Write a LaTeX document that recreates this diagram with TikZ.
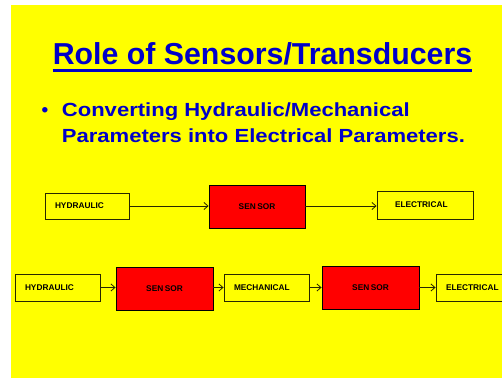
\documentclass[tikz,border=0pt]{standalone}
\usepackage{fontspec}
\setmainfont{Liberation Sans}
\usepackage{graphicx}
\usetikzlibrary{arrows.meta}
\definecolor{bgyellow}{RGB}{255,255,0}
\definecolor{titleblue}{RGB}{0,0,200}
\definecolor{edgecol}{RGB}{40,40,0}
\begin{document}
\begin{tikzpicture}[x=1pt,y=-1pt,
  boxfont/.style={font=\bfseries\fontsize{8.3}{9}\selectfont},
  valbox/.style={draw=edgecol, line width=0.9pt, fill=bgyellow, boxfont, inner ysep=0pt, inner xsep=10pt, text width=#1, align=left},
  sensbox/.style={draw=black, line width=0.9pt, fill=red, boxfont, minimum width=97pt, minimum height=43pt, inner sep=0pt},
  arr/.style={draw=edgecol, line width=0.8pt, -{Straight Barb[length=4pt,width=7pt]}},
  bluetext/.style={text=titleblue, inner sep=0pt}
]
\useasboundingbox (0,0) rectangle (502,378);
\clip (0,0) rectangle (502,378);
\fill[white] (0,0) rectangle (502,378);
\fill[bgyellow] (11,5) rectangle (502,378);

% title
\node[bluetext, anchor=base, font=\bfseries\fontsize{30.3}{36}\selectfont] (title) at (262.5,64) {Role of Sensors/Transducers};
\draw[titleblue, line width=2.3pt] ([yshift=-6.5pt]title.base west) -- ([yshift=-6.5pt]title.base east);

% bullet
\node[bluetext, anchor=base, font=\bfseries\fontsize{19}{23}\selectfont] (bul) at (45,116.7) {•};
\node[bluetext, anchor=base west, font=\bfseries\fontsize{19}{23}\selectfont] (l1) at (61.7,116.7) {\scalebox{1.16}[1]{Converting Hydraulic/Mechanical}};
\node[bluetext, anchor=base west, font=\bfseries\fontsize{19}{23}\selectfont] (l2) at (61.7,142.7) {\scalebox{1.16}[1]{Parameters into Electrical Parameters.}};

% row 1
\node[valbox=64pt, minimum height=26pt] (h1) at (87,206) {HYDRAULIC};
\node[sensbox, minimum width=96pt] (s1) at (257,206.5) {SEN\hspace{1.5pt}SOR};
\node[valbox=60pt, inner xsep=18pt, minimum height=28pt] (e1) at (425,205) {ELECTRICAL};
\draw[arr] (h1.east) -- (s1.west |- h1.east);
\draw[arr] (s1.east |- h1.east) -- (e1.west |- h1.east);

% row 2
\node[valbox=65pt, minimum height=27pt] (h2) at (57.5,287.5) {HYDRAULIC};
\node[sensbox] (s2) at (164.5,288.5) {SEN\hspace{1.5pt}SOR};
\node[valbox=65pt, minimum height=27pt] (m2) at (266.5,287.5) {MECHANICAL};
\node[sensbox] (s3) at (370.5,287.5) {SEN\hspace{1.5pt}SOR};
\node[valbox=60pt, minimum height=27pt] (e2) at (476,287.5) {ELECTRICAL};
\draw[arr] (h2.east) -- (s2.west |- h2.east);
\draw[arr] (s2.east |- h2.east) -- (m2.west);
\draw[arr] (m2.east) -- (s3.west |- m2.east);
\draw[arr] (s3.east |- m2.east) -- (e2.west);
\end{tikzpicture}
\end{document}
